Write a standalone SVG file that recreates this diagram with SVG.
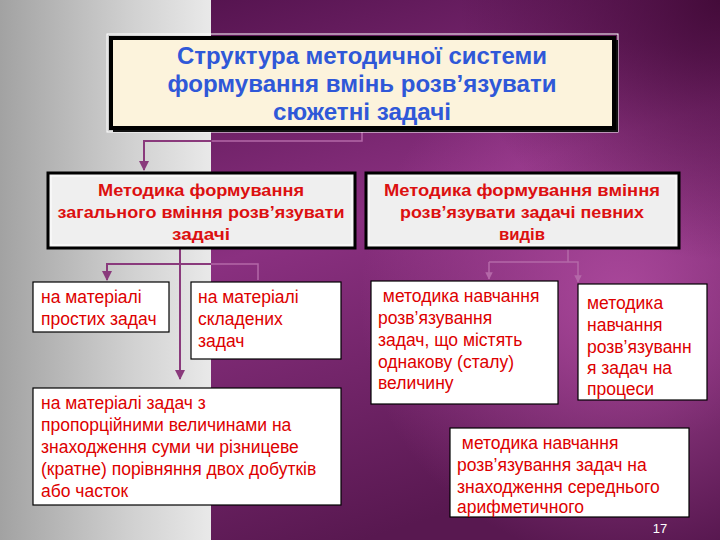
<svg xmlns="http://www.w3.org/2000/svg" width="720" height="540" viewBox="0 0 720 540">
<defs>
<linearGradient id="grey" x1="0" y1="0" x2="1" y2="0">
<stop offset="0" stop-color="#a2a2a2"/>
<stop offset="0.6" stop-color="#cfcfcf"/>
<stop offset="1" stop-color="#e9e9e9"/>
</linearGradient>
<linearGradient id="purp" x1="0" y1="0" x2="0.3" y2="1">
<stop offset="0" stop-color="#561450"/>
<stop offset="0.45" stop-color="#8a3080"/>
<stop offset="1" stop-color="#581850"/>
</linearGradient>
<radialGradient id="glow" cx="620" cy="300" r="260" gradientUnits="userSpaceOnUse">
<stop offset="0" stop-color="#b44ea4" stop-opacity="0.85"/>
<stop offset="1" stop-color="#b44ea4" stop-opacity="0"/>
</radialGradient>
<radialGradient id="dark" cx="720" cy="0" r="260" gradientUnits="userSpaceOnUse">
<stop offset="0" stop-color="#3e0834" stop-opacity="0.9"/>
<stop offset="1" stop-color="#3e0834" stop-opacity="0"/>
</radialGradient>
<marker id="arr" viewBox="0 0 10 10" refX="9" refY="5" markerWidth="5" markerHeight="5" orient="auto">
<path d="M0,0 L10,5 L0,10 z" fill="#8a3a7c"/>
</marker>
<marker id="arr2" viewBox="0 0 10 10" refX="9" refY="5" markerWidth="5" markerHeight="5" orient="auto">
<path d="M0,0 L10,5 L0,10 z" fill="#b468a8"/>
</marker>
</defs>
<style>
.title{font-family:"Liberation Sans",Arial,sans-serif;font-weight:bold;font-size:23px;fill:#2f58d8;text-anchor:middle}
.head{font-family:"Liberation Sans",Arial,sans-serif;font-weight:bold;font-size:17px;fill:#dc1010;text-anchor:middle}
.item{font-family:"Liberation Sans",Arial,sans-serif;font-size:17.5px;fill:#dd0000}
.wbox{fill:#ffffff;stroke:#000;stroke-width:1.2}
.hbox{fill:#efefef;stroke:#000;stroke-width:3}
.hin{fill:none;stroke:#fff;stroke-width:1}
.con{fill:none;stroke:#8a3a7c;stroke-width:2}
.con2{fill:none;stroke:#b468a8;stroke-width:1.5}
</style>
<!-- background -->
<rect x="0" y="0" width="211" height="540" fill="url(#grey)"/>
<rect x="211" y="0" width="509" height="540" fill="url(#purp)"/>
<rect x="211" y="0" width="509" height="540" fill="url(#glow)"/>
<rect x="211" y="0" width="509" height="540" fill="url(#dark)"/>

<!-- connectors -->
<g id="connectors">
<path class="con2" d="M362,131 V141 H211"/>
<path class="con" d="M212,141 H144 V170" marker-end="url(#arr)"/>
<path class="con" d="M180,249 V379" marker-end="url(#arr)"/>
<path class="con" d="M212,264 H107 V280" marker-end="url(#arr)"/>
<path class="con2" d="M211,264 H258 V280"/>
<path class="con2" d="M568,249 V262"/>
<path class="con2" d="M489,262 H578 V282" marker-end="url(#arr2)"/>
<path class="con2" d="M489,262 V279" marker-end="url(#arr2)"/>
</g>

<!-- title -->
<g id="title">
<rect x="107" y="34" width="511" height="98" fill="none" stroke="#ffffff" stroke-width="1"/>
<rect x="113" y="40" width="505" height="92" fill="#111"/>
<rect x="111" y="38" width="503" height="90" fill="#fcf3dc" stroke="#000" stroke-width="4"/>
<text class="title" x="362" y="64" textLength="370" lengthAdjust="spacingAndGlyphs">Структура методичної системи</text>
<text class="title" x="362" y="92" textLength="389" lengthAdjust="spacingAndGlyphs">формування вмінь розв’язувати</text>
<text class="title" x="362" y="120" textLength="178" lengthAdjust="spacingAndGlyphs">сюжетні задачі</text>
</g>

<!-- left head -->
<g id="head-left">
<rect class="hbox" x="48" y="173" width="307" height="75"/>
<rect class="hin" x="51" y="176" width="301" height="69"/>
<text class="head" x="201" y="196" textLength="206" lengthAdjust="spacingAndGlyphs">Методика формування</text>
<text class="head" x="201" y="218" textLength="287" lengthAdjust="spacingAndGlyphs">загального вміння розв’язувати</text>
<text class="head" x="201" y="240" textLength="58" lengthAdjust="spacingAndGlyphs">задачі</text>
</g>

<!-- right head -->
<g id="head-right">
<rect class="hbox" x="366" y="173" width="313" height="75"/>
<rect class="hin" x="369" y="176" width="307" height="69"/>
<text class="head" x="522" y="196" textLength="276" lengthAdjust="spacingAndGlyphs">Методика формування  вміння</text>
<text class="head" x="522" y="218" textLength="244" lengthAdjust="spacingAndGlyphs">розв’язувати задачі певних</text>
<text class="head" x="522" y="240" textLength="46" lengthAdjust="spacingAndGlyphs">видів</text>
</g>

<!-- simple -->
<g id="simple">
<rect class="wbox" x="33" y="282" width="136" height="50"/>
<text class="item" x="41" y="303">на матеріалі</text>
<text class="item" x="41" y="325">простих задач</text>
</g>

<!-- composite -->
<g id="composite">
<rect class="wbox" x="191" y="282" width="150" height="77"/>
<text class="item" x="198" y="303">на матеріалі</text>
<text class="item" x="198" y="325">складених</text>
<text class="item" x="198" y="347">задач</text>
</g>

<!-- proportional -->
<g id="proportional">
<rect class="wbox" x="33" y="388" width="308" height="117"/>
<text class="item" x="41" y="409">на матеріалі задач з</text>
<text class="item" x="41" y="431">пропорційними величинами на</text>
<text class="item" x="41" y="453">знаходження суми чи різницеве</text>
<text class="item" x="41" y="475">(кратне) порівняння двох добутків</text>
<text class="item" x="41" y="497">або часток</text>
</g>

<!-- constant -->
<g id="constant">
<rect class="wbox" x="371" y="281" width="187" height="123"/>
<text class="item" x="378" y="302" xml:space="preserve"> методика навчання</text>
<text class="item" x="378" y="324">розв’язування</text>
<text class="item" x="378" y="346">задач, що містять</text>
<text class="item" x="378" y="368">однакову (сталу)</text>
<text class="item" x="378" y="389">величину</text>
</g>

<!-- processes -->
<g id="processes">
<rect class="wbox" x="578" y="284" width="129" height="116"/>
<text class="item" x="587" y="309">методика</text>
<text class="item" x="587" y="331">навчання</text>
<text class="item" x="587" y="353">розв’язуванн</text>
<text class="item" x="587" y="374">я задач на</text>
<text class="item" x="587" y="395">процеси</text>
</g>

<!-- average -->
<g id="average">
<rect class="wbox" x="450" y="428" width="239" height="89"/>
<text class="item" x="457" y="449" xml:space="preserve"> методика навчання</text>
<text class="item" x="457" y="471">розв’язування задач на</text>
<text class="item" x="457" y="493">знаходження середнього</text>
<text class="item" x="457" y="513">арифметичного</text>
</g>

<text x="660" y="533" font-family="Liberation Sans, Arial, sans-serif" font-size="13" fill="#ffffff" text-anchor="middle">17</text>
</svg>
